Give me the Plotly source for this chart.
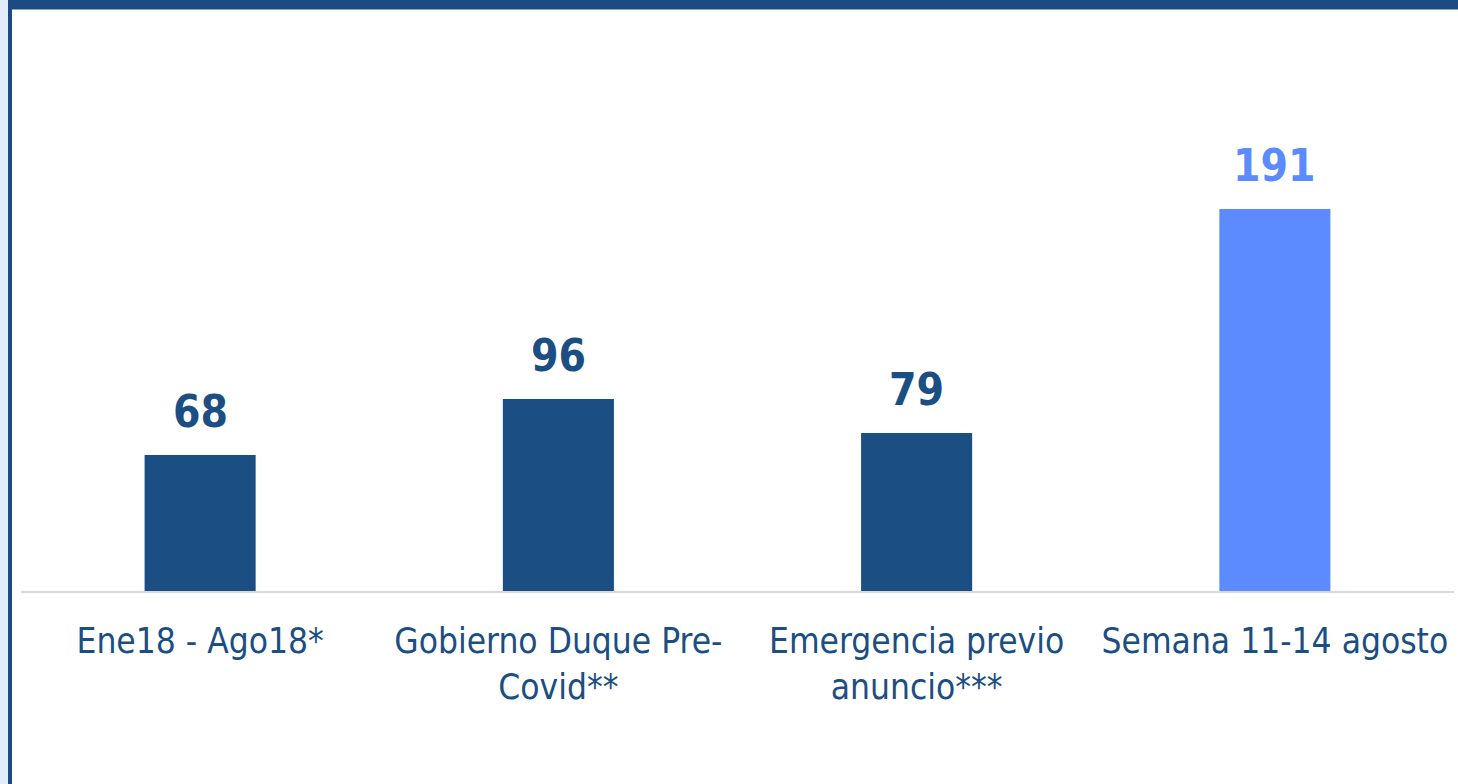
import plotly.graph_objects as go

categories = ["Ene18 - Ago18*", "Gobierno Duque Pre-<br>Covid**",
              "Emergencia previo<br>anuncio***", "Semana 11-14 agosto"]
values = [68, 96, 79, 191]
bar_colors = ["#1b4e82", "#1b4e82", "#1b4e82", "#5b8bff"]

W, H = 1458, 784
ML, MR, MT, MB = 21, 4, 131, 193
PW, PH = W - ML - MR, H - MT - MB


def px_x(px):
    return (px - ML) / PW


def px_y(py):
    return 1 - (py - MT) / PH


fig = go.Figure()
fig.add_trace(go.Bar(
    x=categories,
    y=values,
    marker_color=bar_colors,
    marker_line_width=0,
    hoverinfo="skip",
))

# value labels above the bars
for cat, val, col in zip(categories, values, bar_colors):
    fig.add_annotation(
        x=cat, y=val, text=f"<b>{val}</b>",
        showarrow=False, yanchor="bottom", yshift=16,
        font=dict(family="DejaVu Sans Condensed, DejaVu Sans", size=44, color=col),
    )

# frame: dark strip on top and left, pale strip at far left
frame = "#1a4c82"
fig.add_shape(type="rect", xref="paper", yref="paper",
              x0=px_x(0), x1=px_x(W), y0=px_y(0), y1=px_y(9),
              fillcolor=frame, line_width=0, layer="above")
fig.add_shape(type="rect", xref="paper", yref="paper",
              x0=px_x(12), x1=px_x(W), y0=px_y(9), y1=px_y(10),
              fillcolor="#8aa6c8", line_width=0, layer="above")
fig.add_shape(type="rect", xref="paper", yref="paper",
              x0=px_x(0), x1=px_x(8), y0=px_y(0), y1=px_y(H),
              fillcolor="#e3ecfb", line_width=0, layer="above")
fig.add_shape(type="rect", xref="paper", yref="paper",
              x0=px_x(8), x1=px_x(12), y0=px_y(0), y1=px_y(H),
              fillcolor=frame, line_width=0, layer="above")

fig.update_layout(
    width=W, height=H,
    margin=dict(l=ML, r=MR, t=MT, b=MB, pad=0),
    paper_bgcolor="white", plot_bgcolor="white",
    bargap=0.69,
    showlegend=False,
    xaxis=dict(
        showline=True, linecolor="#d9d9d9", linewidth=2,
        ticks="outside", ticklen=18, tickcolor="rgba(0,0,0,0)",
        showgrid=False, zeroline=False,
        tickfont=dict(family="DejaVu Sans Condensed, DejaVu Sans", size=35, color="#1b4e82"),
    ),
    yaxis=dict(range=[0, 230], visible=False, showgrid=False, zeroline=False),
)

# remove the browser's default page margin so the figure sits at 0,0
fig.write_html("out.html", config={"displayModeBar": False},
               post_script="document.body.style.margin='0';")
